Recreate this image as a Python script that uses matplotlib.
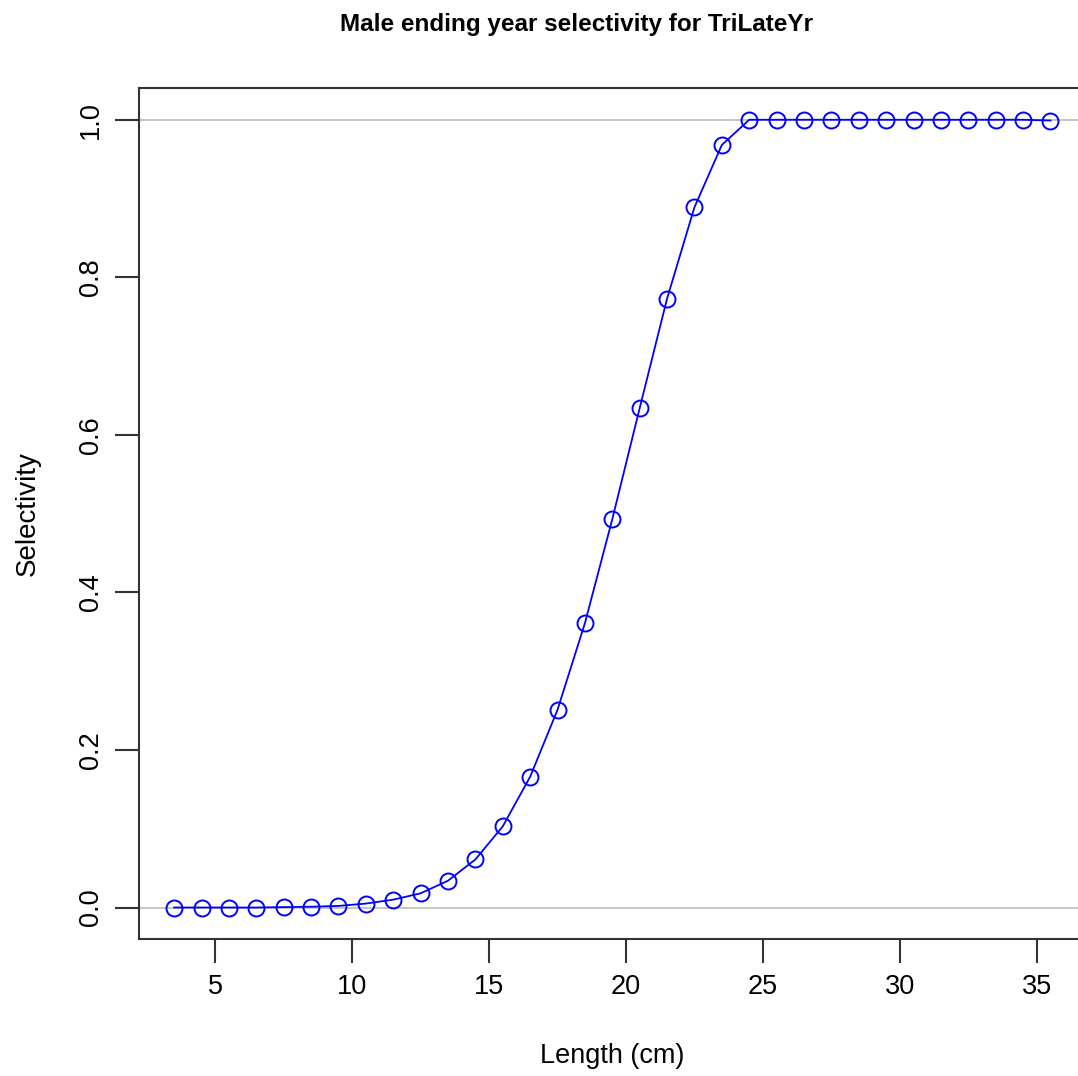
import numpy as np
import matplotlib.pyplot as plt

plt.rcParams['font.family'] = ['Liberation Sans', 'DejaVu Sans']

# Lengths (bin midpoints) and selectivity values
length = [3.5, 4.5, 5.5, 6.5, 7.5, 8.5, 9.5, 10.5, 11.5, 12.5, 13.5, 14.5,
          15.5, 16.5, 17.5, 18.5, 19.5, 20.5, 21.5, 22.5, 23.5, 24.5, 25.5,
          26.5, 27.5, 28.5, 29.5, 30.5, 31.5, 32.5, 33.5, 34.5, 35.5]
selectivity = [0.0, 0.0, 0.0, 0.0, 0.0005, 0.001, 0.002, 0.005, 0.010, 0.018,
               0.034, 0.061, 0.103, 0.166, 0.251, 0.361, 0.493, 0.634, 0.773,
               0.889, 0.968, 1.0, 1.0, 1.0, 1.0, 1.0, 1.0, 1.0, 1.0, 1.0, 1.0,
               1.0, 0.999]
xticks = [5, 10, 15, 20, 25, 30, 35]
yticks = [0.0, 0.2, 0.4, 0.6, 0.8, 1.0]

fig = plt.figure(figsize=(10.78, 10.76), dpi=100)
# right edge of the plot box falls just outside the image, as in the original
ax = fig.add_axes([0.129, 0.1273, 0.878, 0.7907])

ax.axhline(0, color='#c0c0c0', lw=1.3, zorder=1)
ax.axhline(1, color='#c0c0c0', lw=1.3, zorder=1)
ax.plot(length, selectivity, color='#0000ff', lw=1.3, marker='o',
        markersize=11.5, markerfacecolor='none', markeredgecolor='#0000ff',
        markeredgewidth=1.4, zorder=3)

ax.set_xlim(2.22, 36.78)
ax.set_ylim(-0.04, 1.04)
ax.set_xticks(xticks)
ax.set_yticks(yticks)
ax.set_yticklabels(['%.1f' % v for v in yticks], rotation=90, va='center')

for s in ['left', 'bottom', 'top', 'right']:
    ax.spines[s].set_color('#333333')
    ax.spines[s].set_linewidth(1.5)
ax.tick_params(direction='out', length=17, width=1.5, color='#333333',
               labelsize=19.5, pad=8)

ax.set_xlabel('Length (cm)', fontsize=19.5, labelpad=31)
ax.set_ylabel('Selectivity', fontsize=20, labelpad=27)
fig.text(0.535, 0.977, 'Male ending year selectivity for TriLateYr',
         fontsize=17.5, fontweight='bold', ha='center', va='center')

fig.savefig('out.png', dpi=100)
